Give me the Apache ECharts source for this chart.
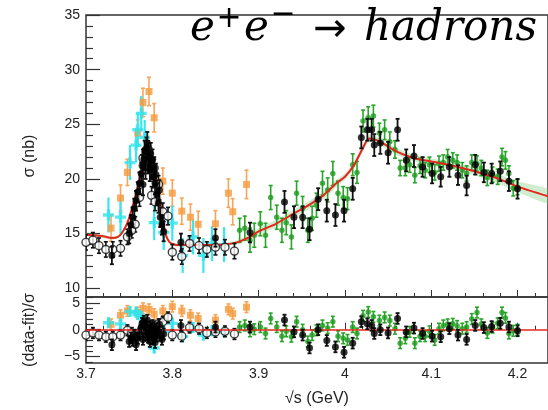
<!DOCTYPE html>
<html>
<head>
<meta charset="utf-8">
<script src="https://cdn.jsdelivr.net/npm/echarts@6/dist/echarts.min.js"></script>
<style>
  html, body { margin: 0; padding: 0; background: #fff; }
  #chart { width: 548px; height: 410px; }
</style>
</head>
<body>
<div id="chart"></div>
<script>
// ---- fit curve: sqrt(s) [GeV], sigma [nb], band half-width [nb] ----
const fitX = [3.700,3.710,3.720,3.730,3.737,3.742,3.748,3.755,3.762,3.768,
              3.773,3.778,3.783,3.788,3.792,3.797,3.805,3.820,3.840,3.860,
              3.875,3.890,3.900,3.920,3.940,3.960,3.975,3.990,4.000,4.010,
              4.020,4.028,4.035,4.045,4.060,4.080,4.100,4.125,4.150,4.175,
              4.200,4.236];
const fitY = [14.9,14.85,14.75,14.6,14.7,15.1,16.0,17.8,20.0,21.8,
              22.4,21.6,19.3,16.8,15.0,14.2,13.95,13.95,13.95,14.0,
              14.2,14.7,15.2,15.9,16.8,17.7,18.5,19.6,20.2,21.2,
              22.7,23.7,23.6,23.2,22.5,21.9,21.6,21.2,20.7,20.1,
              19.3,18.4];
const fitErr = [0.15,0.15,0.15,0.15,0.15,0.15,0.15,0.15,0.15,0.15,
                0.15,0.15,0.15,0.15,0.15,0.15,0.15,0.15,0.15,0.15,
                0.2,0.25,0.3,0.35,0.35,0.35,0.35,0.35,0.3,0.3,
                0.3,0.3,0.3,0.3,0.3,0.3,0.3,0.3,0.35,0.4,
                0.5,0.65];

// ---- measurements: [sqrt(s), sigma, error] ----
const blackPoints = [
  [3.730,13.0,0.8],[3.750,15.0,0.9],[3.752,15.8,0.9],[3.754,16.5,0.9],[3.756,17.3,0.9],
  [3.758,18.0,0.9],[3.760,18.8,0.9],[3.762,19.6,1.0],[3.764,20.5,1.0],[3.765,21.2,1.0],
  [3.766,19.5,1.0],[3.767,21.8,1.0],[3.768,22.5,1.0],[3.769,21.0,1.0],[3.770,22.8,1.0],
  [3.771,23.3,1.0],[3.772,21.5,1.0],[3.773,22.0,1.0],[3.774,20.8,1.0],[3.775,22.3,1.0],
  [3.776,21.0,1.0],[3.777,21.7,1.0],[3.778,20.2,1.0],[3.779,21.0,1.0],[3.780,19.6,1.0],
  [3.781,20.4,1.0],[3.782,18.6,1.0],[3.784,17.8,0.9],[3.785,19.0,0.9],[3.786,16.5,0.9],
  [3.788,15.8,0.9],[3.790,15.2,0.9],[3.810,14.2,0.8],[3.850,14.6,0.8],[3.890,15.1,0.9],
  [3.930,17.9,1.0],[3.941,16.5,1.0],[3.951,16.5,1.0],[3.959,15.4,1.0],[3.969,18.15,1.0],
  [3.979,17.1,1.0],[3.989,16.7,1.0],[3.999,17.1,1.0],[4.009,19.1,1.0],[4.019,23.8,1.0],
  [4.026,24.5,1.0],[4.031,24.5,1.0],[4.034,23.1,1.0],[4.041,23.3,1.0],[4.050,22.4,1.0],
  [4.061,24.5,1.0],[4.071,21.7,1.0],[4.080,22.1,1.0],[4.090,21.1,0.9],[4.101,20.5,0.9],
  [4.111,20.2,0.9],[4.121,21.1,0.9],[4.131,20.35,0.9],[4.141,19.4,0.9],[4.151,21.3,0.9],
  [4.161,20.6,0.9],[4.170,20.5,0.9],[4.180,20.7,0.9],[4.190,19.8,0.9],[4.200,19.1,0.9]
];
const openPoints = [
  [3.700,14.2,0.7],[3.708,14.4,0.7],[3.715,13.9,0.7],[3.723,13.55,0.7],[3.731,13.55,0.7],
  [3.740,13.65,0.7],[3.748,14.7,0.7],[3.753,15.3,0.7],[3.757,15.85,0.7],[3.762,18.3,0.8],
  [3.766,21.9,0.8],[3.772,22.7,0.8],[3.776,18.5,0.8],[3.779,21.0,0.8],[3.780,17.9,0.8],
  [3.784,19.5,0.8],[3.789,17.0,0.8],[3.795,16.6,0.8],[3.800,13.3,0.7],[3.811,12.9,0.7],
  [3.820,14.1,0.7],[3.831,13.9,0.7],[3.840,13.55,0.7],[3.850,13.75,0.7],[3.861,13.75,0.7],
  [3.872,13.4,0.7]
];
const cyanPoints = [
  [3.726,16.7,1.6],[3.740,16.5,1.6],[3.751,21.5,1.6],[3.758,23.1,1.6],[3.760,24.5,1.6],
  [3.764,26.0,1.6],[3.768,23.8,1.6],[3.779,16.0,1.6],[3.790,15.1,1.6],[3.800,15.95,1.6],
  [3.812,13.0,1.6],[3.824,14.7,1.6],[3.836,13.0,1.6],[3.846,14.1,1.6],[3.860,14.0,1.6]
];
const orangePoints = [
  [3.729,15.5,1.2],[3.740,18.25,1.2],[3.748,20.6,1.2],[3.760,24.2,1.2],[3.766,27.0,1.3],
  [3.773,28.0,1.3],[3.779,25.6,1.3],[3.789,19.8,1.2],[3.800,18.7,1.2],[3.811,17.05,1.2],
  [3.821,16.5,1.2],[3.830,15.85,1.2],[3.850,15.9,1.2],[3.865,18.7,1.3],[3.870,17.0,1.2],
  [3.886,19.5,1.3]
];
const greenPoints = [
  [3.878,15.3,1.1],[3.884,15.5,1.1],[3.890,14.4,1.1],[3.895,14.85,1.1],[3.902,15.9,1.1],
  [3.908,14.85,1.1],[3.914,18.3,1.1],[3.921,16.5,1.1],[3.927,15.3,1.1],[3.932,16.0,1.1],
  [3.938,14.7,1.1],[3.944,18.7,1.1],[3.951,17.3,1.1],[3.957,15.3,1.1],[3.962,16.4,1.1],
  [3.967,17.6,1.1],[3.974,19.6,1.1],[3.980,19.0,1.1],[3.986,20.5,1.1],[3.992,18.7,1.1],
  [3.998,18.3,1.0],[4.003,18.2,1.0],[4.009,21.3,1.0],[4.014,20.6,1.0],[4.021,25.3,1.0],
  [4.027,25.6,1.0],[4.033,25.75,1.0],[4.040,24.2,0.9],[4.046,24.5,0.9],[4.052,23.4,0.9],
  [4.058,22.7,0.8],[4.064,21.0,0.7],[4.070,21.0,0.7],[4.075,21.3,0.7],[4.081,20.35,0.7],
  [4.087,21.2,0.7],[4.093,20.8,0.7],[4.098,21.3,0.7],[4.104,20.6,0.7],[4.109,21.4,0.7],
  [4.114,21.5,0.7],[4.119,22.0,0.7],[4.125,21.7,0.7],[4.130,21.5,0.7],[4.136,20.8,0.7],
  [4.141,20.5,0.7],[4.147,21.5,0.7],[4.153,21.4,0.7],[4.158,21.0,0.7],[4.165,20.1,0.7],
  [4.171,20.4,0.7],[4.177,20.2,0.7],[4.182,22.0,0.8],[4.186,21.7,0.8],[4.190,20.5,0.7],
  [4.195,19.15,0.7],[4.200,19.25,0.7]
];

// ---- pulls (data-fit)/sigma, same order as the point lists above ----
const blackPull = [-2.8,-2.2,-1.5,-2.0,-1.0,-2.8,-1.6,-0.8,0.5,1.2,-1.8,1.6,0.8,-1.0,0.4,1.8,
  -1.4,-0.5,-2.2,0.6,-0.6,0.8,-1.6,-0.2,-2.4,0.2,-1.2,-0.4,1.0,-1.0,-1.8,-0.8,0.8,0.5,0.5,
  1.8,-0.4,-1.0,-3.4,0.0,-2.0,-3.2,-4.2,-2.5,1.5,1.1,0.8,-0.7,0.0,-0.6,2.1,-0.4,0.3,-0.7,
  -1.2,-1.3,0.2,-1.0,-1.8,0.8,0.4,0.6,1.2,0.5,-0.2];
const openPull = [-1.0,-0.6,-1.0,-1.3,-1.3,-1.0,-0.1,-0.6,-1.0,-0.7,0.3,0.5,-1.8,0.6,-0.5,
  1.0,1.5,2.3,-1.0,-1.2,0.4,0.2,-0.6,-0.4,-0.3,-0.8];
const cyanPull = [1.3,1.1,3.4,3.3,2.8,2.5,1.0,-3.4,-0.3,1.2,-1.3,0.4,-1.0,-0.2,-0.4];
const orangePull = [1.0,2.7,3.5,3.2,4.0,3.8,2.9,3.5,4.3,3.5,2.7,2.1,1.8,3.8,3.0,4.2];
const greenPull = [0.5,0.8,-0.3,0.1,0.5,-0.7,2.1,0.5,-1.2,-0.3,-1.3,1.5,0.0,-2.2,-1.0,-0.1,
  0.8,0.3,1.5,-1.2,-1.6,-1.9,0.5,-0.7,2.6,3.3,2.4,1.7,2.3,1.7,0.2,-2.5,-1.6,-0.4,-2.5,-1.2,
  -1.2,-0.3,-1.9,0.2,0.8,1.0,1.1,0.7,0.2,0.5,2.0,3.2,1.0,-0.6,0.4,1.2,3.2,2.2,-0.7,-0.2,0.0];
const PULL_ERR = 1.0;

// ---- axis ticks and labels ----
const X_MIN = 3.7, X_MAX = 4.2353;
const xMajorTicks = [3.7, 3.8, 3.9, 4.0, 4.1, 4.2];
const xTickLabels = ['3.7', '3.8', '3.9', '4', '4.1', '4.2'];
const xMinorTicks = [3.72,3.74,3.76,3.78,3.82,3.84,3.86,3.88,3.92,3.94,3.96,3.98,
                     4.02,4.04,4.06,4.08,4.12,4.14,4.16,4.18,4.22];
const sigMin = 9.2, sigMax = 35;
const sigMajorTicks = [10, 15, 20, 25, 30, 35];
const sigTickLabels = ['10', '15', '20', '25', '30', '35'];
const sigMinorTicks = [11,12,13,14,16,17,18,19,21,22,23,24,26,27,28,29,31,32,33,34];
const pullMin = -6.2, pullMax = 6.1;
const pullMajorTicks = [-5, 0, 5];
const pullTickLabels = ['\u22125', '0', '5'];
const pullMinorTicks = [-6,-4,-3,-2,-1,1,2,3,4,6];

const FONT = '"Liberation Sans", Arial, Helvetica, "DejaVu Sans", sans-serif';
const INK = '#222';
const AXIS = '#333';

const withPull = (pts, pulls) => pulls.map((r, i) => [pts[i][0], r, PULL_ERR]);

function errorBars(data, ax, color, lw, cap) {
  return {
    type: 'custom', xAxisIndex: ax, yAxisIndex: ax, clip: true, silent: true,
    data: data, encode: { x: 0, y: 1 },
    renderItem: function (params, api) {
      const x = api.value(0), y = api.value(1), e = api.value(2);
      const a = api.coord([x, y + e]), b = api.coord([x, y - e]);
      const st = { stroke: color, lineWidth: lw };
      return { type: 'group', children: [
        { type: 'line', shape: { x1: a[0], y1: a[1], x2: b[0], y2: b[1] }, style: st },
        { type: 'line', shape: { x1: a[0] - cap, y1: a[1], x2: a[0] + cap, y2: a[1] }, style: st },
        { type: 'line', shape: { x1: b[0] - cap, y1: b[1], x2: b[0] + cap, y2: b[1] }, style: st }
      ] };
    }
  };
}

function markers(data, ax, symbol, size, itemStyle) {
  return {
    type: 'scatter', xAxisIndex: ax, yAxisIndex: ax, clip: true, silent: true,
    data: data.map(d => [d[0], d[1]]),
    symbol: symbol, symbolSize: size, itemStyle: itemStyle
  };
}

const PLUS = 'path://M3.5,0H6.5V3.5H10V6.5H6.5V10H3.5V6.5H0V3.5H3.5Z';
const styles = {
  orange: { color: '#f59a3c', err: '#f7a55a' },
  cyan:   { color: '#2fe3ee', err: '#3ce6f0' },
  green:  { color: '#1e9c1e', err: '#2aa52a' },
  black:  { color: '#000000', err: '#111111' },
  open:   { color: '#ffffff', err: '#111111' }
};

function panelSeries(ax, o, c, g, op, b) {
  return [
    errorBars(o, ax, styles.orange.err, 1.6, 2),
    markers(o, ax, 'rect', 7, { color: styles.orange.color }),
    errorBars(c, ax, styles.cyan.err, 2.2, 0),
    markers(c, ax, PLUS, 11, { color: styles.cyan.color }),
    errorBars(g, ax, styles.green.err, 1.6, 2),
    markers(g, ax, 'circle', 5.5, { color: styles.green.color })
  ].concat(ax === 0 ? [{
    type: 'line', xAxisIndex: 0, yAxisIndex: 0, silent: true,
    data: fitX.map((x, i) => [x, fitY[i]]),
    showSymbol: false, smooth: 0.25, z: 3,
    lineStyle: { color: '#e4261c', width: 2 }
  }] : []).concat([
    Object.assign(errorBars(op, ax, styles.open.err, 1.6, 2), { z: 4 }),
    Object.assign(markers(op, ax, 'circle', 8, { color: '#fff', borderColor: '#111', borderWidth: 1.4 }), { z: 4 }),
    Object.assign(errorBars(b, ax, styles.black.err, 1.8, 2), { z: 5 }),
    Object.assign(markers(b, ax, 'circle', 7, { color: styles.black.color }), { z: 5 })
  ]);
}

// light green uncertainty band around the fit
const bandSeries = {
  type: 'custom', xAxisIndex: 0, yAxisIndex: 0, clip: true, silent: true, z: 1,
  data: [[fitX[0], fitY[0]]], encode: { x: 0, y: 1 },
  renderItem: function (params, api) {
    const pts = [];
    for (let i = 0; i < fitX.length; i++) pts.push(api.coord([fitX[i], fitY[i] + fitErr[i]]));
    for (let i = fitX.length - 1; i >= 0; i--) pts.push(api.coord([fitX[i], fitY[i] - fitErr[i]]));
    return { type: 'polygon', shape: { points: pts, smooth: 0.2 },
             style: { fill: 'rgba(110, 200, 110, 0.32)' } };
  }
};

const zeroLine = {
  type: 'scatter', xAxisIndex: 2, yAxisIndex: 2, silent: true, z: 1, data: [],
  markLine: {
    silent: true, symbol: 'none', label: { show: false }, animation: false,
    lineStyle: { color: '#e4261c', width: 1.6, type: 'solid' },
    data: [{ yAxis: 0 }]
  }
};

function xAxisDef(grid, ticks, len, labels, name) {
  return {
    type: 'value', gridIndex: grid, position: 'bottom', min: X_MIN, max: X_MAX,
    axisLine: { show: false }, splitLine: { show: false },
    axisTick: { show: true, inside: true, length: len, customValues: ticks,
                lineStyle: { color: AXIS, width: 1 } },
    axisLabel: labels ? {
      show: true, customValues: xMajorTicks, margin: 4,
      fontFamily: FONT, fontSize: 14, color: INK,
      formatter: v => xTickLabels[xMajorTicks.findIndex(t => Math.abs(t - v) < 1e-6)]
    } : { show: false },
    name: name || '', nameLocation: 'middle', nameGap: 28,
    nameTextStyle: { fontFamily: FONT, fontSize: 16, color: INK }
  };
}

function yAxisDef(grid, min, max, ticks, len, labelVals, labelText, name) {
  return {
    type: 'value', gridIndex: grid, position: 'left', min: min, max: max,
    axisLine: { show: false }, splitLine: { show: false },
    axisTick: { show: true, inside: true, length: len, customValues: ticks,
                lineStyle: { color: AXIS, width: 1.2 } },
    axisLabel: labelVals ? {
      show: true, customValues: labelVals, margin: 6,
      fontFamily: FONT, fontSize: 14, color: INK,
      formatter: v => labelText[labelVals.findIndex(t => Math.abs(t - v) < 1e-6)]
    } : { show: false },
    name: name || '', nameLocation: 'middle', nameGap: 48,
    nameTextStyle: { fontFamily: FONT, fontSize: 16, color: INK }
  };
}

const titleFont = '"DejaVu Serif", serif';
const symFont = '"DejaVu Sans", sans-serif';

const option = {
  animation: false,
  backgroundColor: '#fff',
  grid: [
    { left: 86, top: 15, width: 463, height: 282, show: true, borderColor: AXIS, borderWidth: 1.5 },
    { left: 86, top: 297, width: 463, height: 66, show: true, borderColor: AXIS, borderWidth: 1.5 }
  ],
  xAxis: [
    xAxisDef(0, xMajorTicks, 7, false),
    xAxisDef(0, xMinorTicks, 4, false),
    xAxisDef(1, xMajorTicks, 7, true, '\u221As (GeV)'),
    xAxisDef(1, xMinorTicks, 4, false)
  ],
  yAxis: [
    yAxisDef(0, sigMin, sigMax, sigMajorTicks, 14, sigMajorTicks, sigTickLabels, '\u03C3 (nb)'),
    yAxisDef(0, sigMin, sigMax, sigMinorTicks, 7, null, null),
    yAxisDef(1, pullMin, pullMax, pullMajorTicks, 14, pullMajorTicks, pullTickLabels, '(data-fit)/\u03C3'),
    yAxisDef(1, pullMin, pullMax, pullMinorTicks, 7, null, null)
  ],
  graphic: [
    { type: 'text', x: 190, y: 29, z: 100, style: { text: 'e', font: 'italic 42px ' + titleFont, fill: '#000', align: 'left', verticalAlign: 'middle' } },
    { type: 'text', x: 229, y: 19, z: 100, style: { text: '+', font: '30px ' + symFont, fill: '#000', align: 'center', verticalAlign: 'middle' } },
    { type: 'text', x: 244, y: 29, z: 100, style: { text: 'e', font: 'italic 42px ' + titleFont, fill: '#000', align: 'left', verticalAlign: 'middle' } },
    { type: 'text', x: 283, y: 15, z: 100, style: { text: '\u2212', font: '30px ' + symFont, fill: '#000', align: 'center', verticalAlign: 'middle' } },
    { type: 'text', x: 330, y: 31, z: 100, style: { text: '\u2192', font: '40px ' + symFont, fill: '#000', align: 'center', verticalAlign: 'middle' } },
    { type: 'text', x: 364, y: 29, z: 100, style: { text: 'hadrons', font: 'italic 42px ' + titleFont, fill: '#000', align: 'left', verticalAlign: 'middle' } }
  ],
  series: [bandSeries]
    .concat(panelSeries(0, orangePoints, cyanPoints, greenPoints, openPoints, blackPoints))
    .concat([zeroLine])
    .concat(panelSeries(2,
      withPull(orangePoints, orangePull), withPull(cyanPoints, cyanPull),
      withPull(greenPoints, greenPull), withPull(openPoints, openPull),
      withPull(blackPoints, blackPull)))
};

const chart = echarts.init(document.getElementById('chart'), null, { renderer: 'canvas' });
chart.setOption(option);
</script>
</body>
</html>
